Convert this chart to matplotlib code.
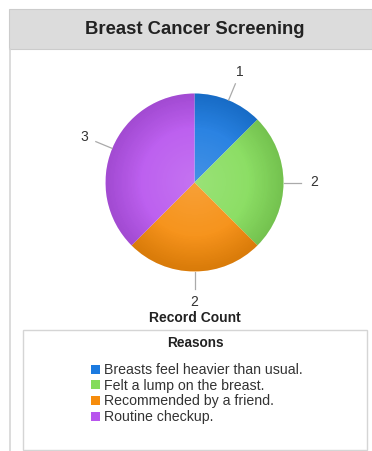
import numpy as np
import matplotlib
matplotlib.use("Agg")
import matplotlib.pyplot as plt
from matplotlib.patches import Rectangle, Circle
from matplotlib.lines import Line2D

plt.rcParams['font.family'] = ['Liberation Sans', 'DejaVu Sans']

title = "Breast Cancer Screening"
reasons = ["Breasts feel heavier than usual.", "Felt a lump on the breast.",
           "Recommended by a friend.", "Routine checkup."]
counts = [1, 2, 2, 3]
colors = ["#1b7ae0", "#84dc5a", "#f68c0c", "#b855ee"]

W, H = 372, 451
fig = plt.figure(figsize=(W / 100, H / 100), dpi=100)

def fx(px):
    return px / W

def fy(py):
    return 1 - py / H

# header band and panel border
fig.patches.append(Rectangle((fx(9), fy(49)), fx(372 - 9), 40 / H, transform=fig.transFigure,
                             facecolor="#dcdcdc", edgecolor="#cccccc", lw=0.8))
fig.lines.append(Line2D([fx(9.5), fx(9.5)], [fy(49), 0], transform=fig.transFigure,
                        color="#d5d5d5", lw=1.2))
fig.text(fx(195), fy(30), title, ha="center", va="center", fontsize=13.3,
         fontweight="bold", color="#222222")

# pie axes
cx, cy, r = 194.5, 182.5, 89
span = 1.5
ax = fig.add_axes([fx(cx - r * span), fy(cy + r * span), 2 * r * span / W, 2 * r * span / H])

wedges, _ = ax.pie(counts, colors=colors, startangle=90, counterclock=False,
                   radius=1, wedgeprops=dict(linewidth=0))

# soft radial shading
n = 300
g = np.linspace(-1, 1, n)
xx, yy = np.meshgrid(g, g)
rr = np.sqrt(xx ** 2 + yy ** 2)
shade = np.zeros((n, n, 4))
shade[..., :3] = 1.0
shade[..., 3] = 0.18 * np.clip(1 - rr, 0, 1)
im = ax.imshow(shade, extent=(-1, 1, -1, 1), zorder=3)
im.set_clip_path(Circle((0, 0), 1, transform=ax.transData))
dark = np.zeros((n, n, 4))
dark[..., 3] = 0.12 * np.clip((rr - 0.6) / 0.4, 0, 1)
im2 = ax.imshow(dark, extent=(-1, 1, -1, 1), zorder=3)
im2.set_clip_path(Circle((0, 0), 1, transform=ax.transData))
ax.set_xlim(-span, span)
ax.set_ylim(-span, span)
ax.set_aspect("equal")
ax.axis("off")

# value labels with leader lines
total = sum(counts)
start = 90.0
for v in counts:
    sweep = 360.0 * v / total
    mid = np.deg2rad(start - sweep / 2)
    start -= sweep
    c, s = np.cos(mid), np.sin(mid)
    ax.plot([c * 1.0, c * 1.2], [s * 1.0, s * 1.2], color="#aaaaaa", lw=0.9, zorder=2)
    ax.text(c * 1.34, s * 1.34, str(v), ha="center", va="center", fontsize=10,
            color="#333333")

fig.text(fx(195), fy(318), "Record Count", ha="center", va="center", fontsize=10,
         fontweight="bold", color="#222222")

# legend box
fig.patches.append(Rectangle((fx(23), fy(450)), fx(367 - 23), 120 / H, transform=fig.transFigure,
                             facecolor="white", edgecolor="#d5d5d5", lw=1.0))
fig.text(fx(195), fy(343), "Reasons", ha="center", va="center", fontsize=9.8,
         fontweight="bold", color="#222222")
leg = fig.legend(wedges, reasons, loc="upper left", bbox_to_anchor=(fx(91), fy(363)),
                 frameon=False, fontsize=10.2, handlelength=0.6, handleheight=0.6,
                 handletextpad=0.3, labelspacing=0.12, borderpad=0, borderaxespad=0)
for t in leg.get_texts():
    t.set_color("#333333")

fig.savefig("out.png", dpi=100)
